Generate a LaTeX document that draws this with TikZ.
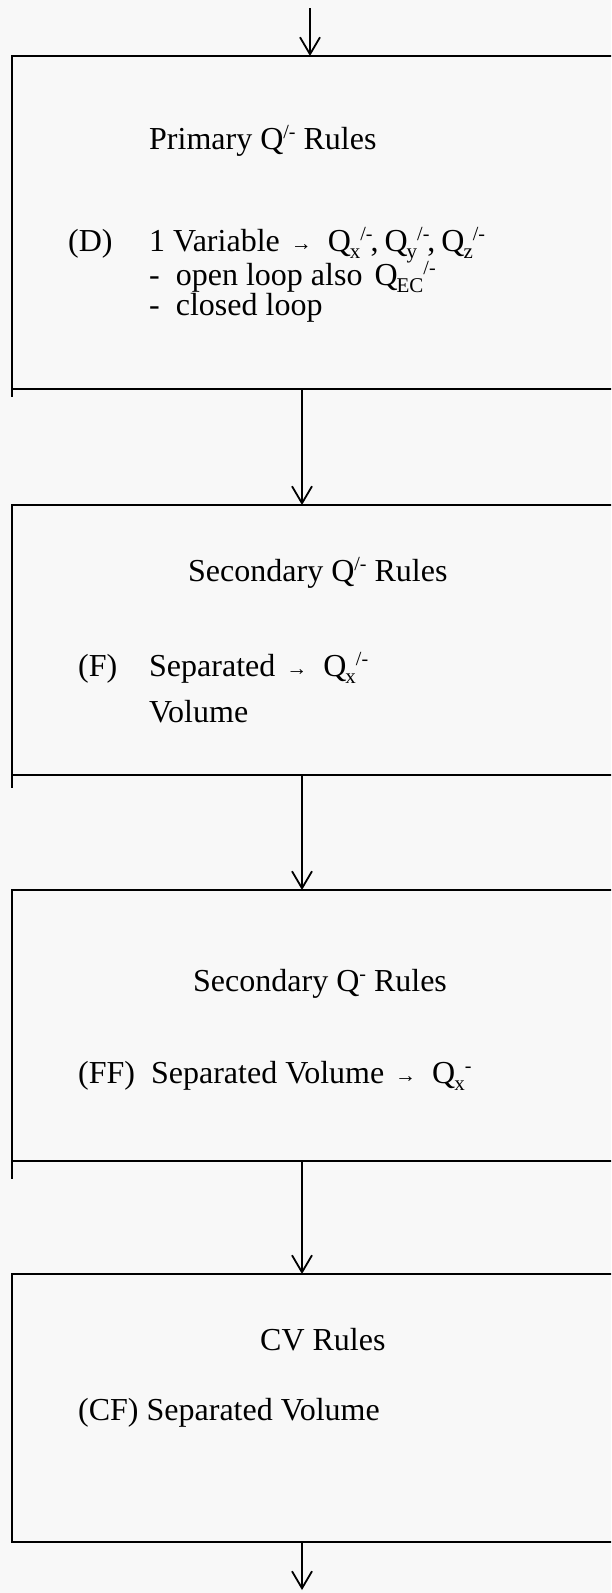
\documentclass[tikz,border=0pt]{standalone}
\usepackage{fontspec}
\setmainfont{Liberation Serif}
\usetikzlibrary{arrows.meta,calc}
\definecolor{bg}{RGB}{248,248,248}
\newcommand{\lo}[1]{\kern-1pt\raisebox{-7pt}{\fontsize{21}{21}\selectfont #1}}
\newcommand{\hi}[1]{\raisebox{11pt}{\fontsize{20}{20}\selectfont #1}}
\newcommand{\rarr}{\hspace{3pt}{\fontsize{21}{21}\selectfont\raisebox{1pt}{→}}\hspace{8pt}}
\newcommand{\cm}{\kern-2pt,\hspace{6pt}}
\tikzset{
  box/.style={draw=black, line width=2.6pt, rectangle, anchor=north west, inner sep=0pt, outer sep=0pt, minimum width=640pt},
  boxline/.style={draw=black, line width=2.6pt},
  arr/.style={draw=black, line width=1.8pt, -{Straight Barb[length=17pt,width=20pt,line width=1.8pt]}},
  txt/.style={anchor=base west, inner sep=0pt, font=\fontsize{32}{38}\selectfont}
}
\begin{document}
\begin{tikzpicture}[x=1pt,y=-1pt]
\fill[bg] (0,0) rectangle (611,1593);
\clip (0,0) rectangle (611,1593);
% boxes
\node[box, minimum height=333pt] (b1) at (12,56) {};
\node[box, minimum height=270pt] (b2) at (12,505) {};
\node[box, minimum height=271pt] (b3) at (12,890) {};
\node[box, minimum height=268pt] (b4) at (12,1274) {};
\draw[boxline] (b1.south west) -- ++(0,8);
\draw[boxline] (b2.south west) -- ++(0,13);
\draw[boxline] (b3.south west) -- ++(0,18);
% connectors
\coordinate (top) at (310,8);
\coordinate (ax) at (302,0);
\coordinate (bot) at (302,1590);
\draw[arr] (top) -- (top |- b1.north);
\draw[arr] (ax |- b1.south) -- (ax |- b2.north);
\draw[arr] (ax |- b2.south) -- (ax |- b3.north);
\draw[arr] (ax |- b3.south) -- (ax |- b4.north);
\draw[arr] (ax |- b4.south) -- (bot);
% box 1 text
\node[txt] (t1) at (149,149) {Primary Q\hi{/-} Rules};
\node[txt] (t2) at (68,251) {(D)};
\node[txt] (t3) at (149,251) {1 Variable \rarr{} Q\lo{x}\hi{/-}\cm Q\lo{y}\hi{/-}\cm Q\lo{z}\hi{/-}};
\node[txt] (t4) at (149,285) {-\ \ open loop also\hspace{12pt}Q\lo{EC}\hi{/-}};
\node[txt] (t5) at (149,315) {-\ \ closed loop};
% box 2 text
\node[txt] (t6) at (188,581) {Secondary Q\hi{/-} Rules};
\node[txt] (t7) at (78,676) {(F)};
\node[txt] (t8) at (149,676) {Separated \rarr{} Q\lo{x}\hi{/-}};
\node[txt] (t9) at (149,722) {Volume};
% box 3 text
\node[txt] (t10) at (193,991) {Secondary Q\hi{-} Rules};
\node[txt] (t11) at (78,1083) {(FF)\ \ Separated Volume \rarr{} Q\lo{x}\hi{-}};
% box 4 text
\node[txt] (t12) at (260,1350) {CV Rules};
\node[txt] (t13) at (78,1420) {(CF)\ Separated Volume};
\end{tikzpicture}
\end{document}
